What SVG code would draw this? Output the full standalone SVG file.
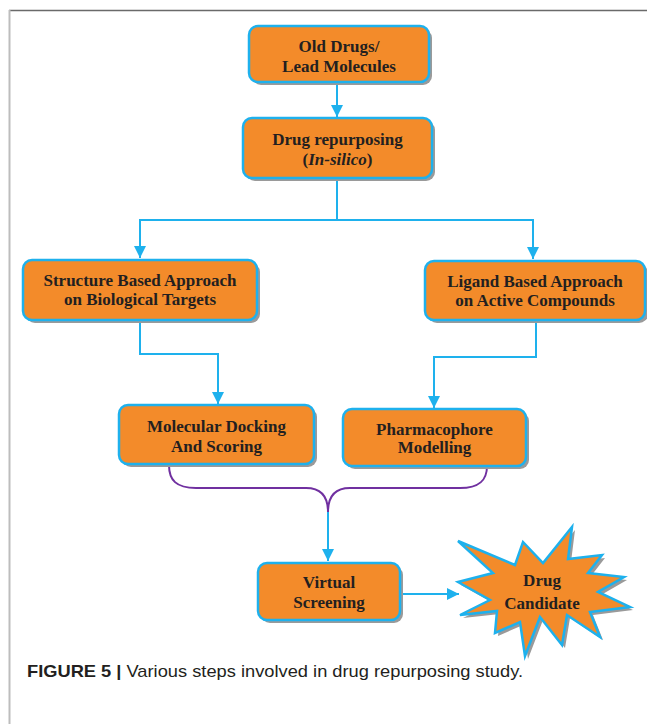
<svg xmlns="http://www.w3.org/2000/svg" width="647" height="724" viewBox="0 0 647 724">
<style>
.box{fill:#f38b2a;stroke:#1eb1ed;stroke-width:2.5}
.shadow{fill:#9a9a9a}
.t{font-family:"Liberation Serif","Times New Roman",serif;font-weight:bold;font-size:17px;fill:#231f20;text-anchor:middle}
.conn{fill:none;stroke:#1eb1ed;stroke-width:2}
.brace{fill:none;stroke:#7030a0;stroke-width:2}
</style>
<defs>
<marker id="ah" markerUnits="userSpaceOnUse" markerWidth="14" markerHeight="14" refX="12" refY="6" orient="auto">
<path d="M0,0 L12,6 L0,12 Z" fill="#1eb1ed"/>
</marker>
</defs>
<rect width="647" height="724" fill="#fff"/>
<line x1="9" y1="10.5" x2="647" y2="10.5" stroke="#6a6a6a" stroke-width="1.5"/>
<line x1="9.5" y1="10" x2="9.5" y2="724" stroke="#bdbdbd" stroke-width="2"/>

<g id="connectors">
<path class="conn" d="M337,82 L337,117" marker-end="url(#ah)"/>
<path class="conn" d="M337,178 L337,220 L140,220 L140,258" marker-end="url(#ah)"/>
<path class="conn" d="M337,220 L533,220 L533,259" marker-end="url(#ah)"/>
<path class="conn" d="M140,320 L140,354 L218,354 L218,404" marker-end="url(#ah)"/>
<path class="conn" d="M536,320 L536,357 L434,357 L434,408" marker-end="url(#ah)"/>
<path class="brace" d="M169,465 C169,480 176,488 196,488 L306,488 C320,488 328,496 328,512"/>
<path class="brace" d="M487,466 C487,480 480,488 460,488 L350,488 C336,488 328,496 328,512"/>
<path class="conn" d="M328,512 L328,561" marker-end="url(#ah)"/>
<path class="conn" d="M400,594 L459,594" marker-end="url(#ah)"/>
</g>

<g id="n1">
<rect class="shadow" x="252" y="29" width="180" height="56" rx="9"/>
<rect class="box" x="249" y="26" width="180" height="56" rx="9"/>
<text class="t" x="339" y="52">Old Drugs/</text>
<text class="t" x="339" y="72">Lead Molecules</text>
</g>

<g id="n2">
<rect class="shadow" x="246" y="121" width="189" height="60" rx="9"/>
<rect class="box" x="243" y="118" width="189" height="60" rx="9"/>
<text class="t" x="337.5" y="145">Drug repurposing</text>
<text class="t" x="337.5" y="165">(<tspan font-style="italic">In-silico</tspan>)</text>
</g>

<g id="n3">
<rect class="shadow" x="26" y="263" width="234" height="60" rx="9"/>
<rect class="box" x="23" y="260" width="234" height="60" rx="9"/>
<text class="t" x="140" y="286">Structure Based Approach</text>
<text class="t" x="140" y="305">on Biological Targets</text>
</g>

<g id="n4">
<rect class="shadow" x="428" y="264" width="220" height="59" rx="9"/>
<rect class="box" x="425" y="261" width="220" height="59" rx="9"/>
<text class="t" x="535" y="287">Ligand Based Approach</text>
<text class="t" x="535" y="306">on Active Compounds</text>
</g>

<g id="n5">
<rect class="shadow" x="122" y="408" width="195" height="59" rx="9"/>
<rect class="box" x="119" y="405" width="195" height="59" rx="9"/>
<text class="t" x="216.5" y="432">Molecular Docking</text>
<text class="t" x="216.5" y="452">And Scoring</text>
</g>

<g id="n6">
<rect class="shadow" x="346" y="412" width="183" height="57" rx="9"/>
<rect class="box" x="343" y="409" width="183" height="57" rx="9"/>
<text class="t" x="434.5" y="435">Pharmacophore</text>
<text class="t" x="434.5" y="453">Modelling</text>
</g>

<g id="n7">
<rect class="shadow" x="261" y="566" width="142" height="57" rx="9"/>
<rect class="box" x="258" y="563" width="142" height="57" rx="9"/>
<text class="t" x="329" y="588">Virtual</text>
<text class="t" x="329" y="608">Screening</text>
</g>

<g id="n8">
<polygon class="shadow" transform="translate(3,3)" points="458,541 515,565 523,542 543,563 572,527 568,559 602,555 588,573 624,577 598,592 630,607 590,612 600,637 567,615 562,645 540,617 525,656 520,622 495,633 497,611 460,615 490,600 458,582 493,573"/>
<polygon class="box" stroke-linejoin="miter" points="458,541 515,565 523,542 543,563 572,527 568,559 602,555 588,573 624,577 598,592 630,607 590,612 600,637 567,615 562,645 540,617 525,656 520,622 495,633 497,611 460,615 490,600 458,582 493,573"/>
<text class="t" x="542" y="586">Drug</text>
<text class="t" x="542" y="609">Candidate</text>
</g>

<text x="27" y="677" textLength="496" lengthAdjust="spacingAndGlyphs" font-family="Liberation Sans, Arial, sans-serif" font-size="17" fill="#231f20"><tspan font-weight="bold">FIGURE 5 |</tspan> Various steps involved in drug repurposing study.</text>
</svg>
